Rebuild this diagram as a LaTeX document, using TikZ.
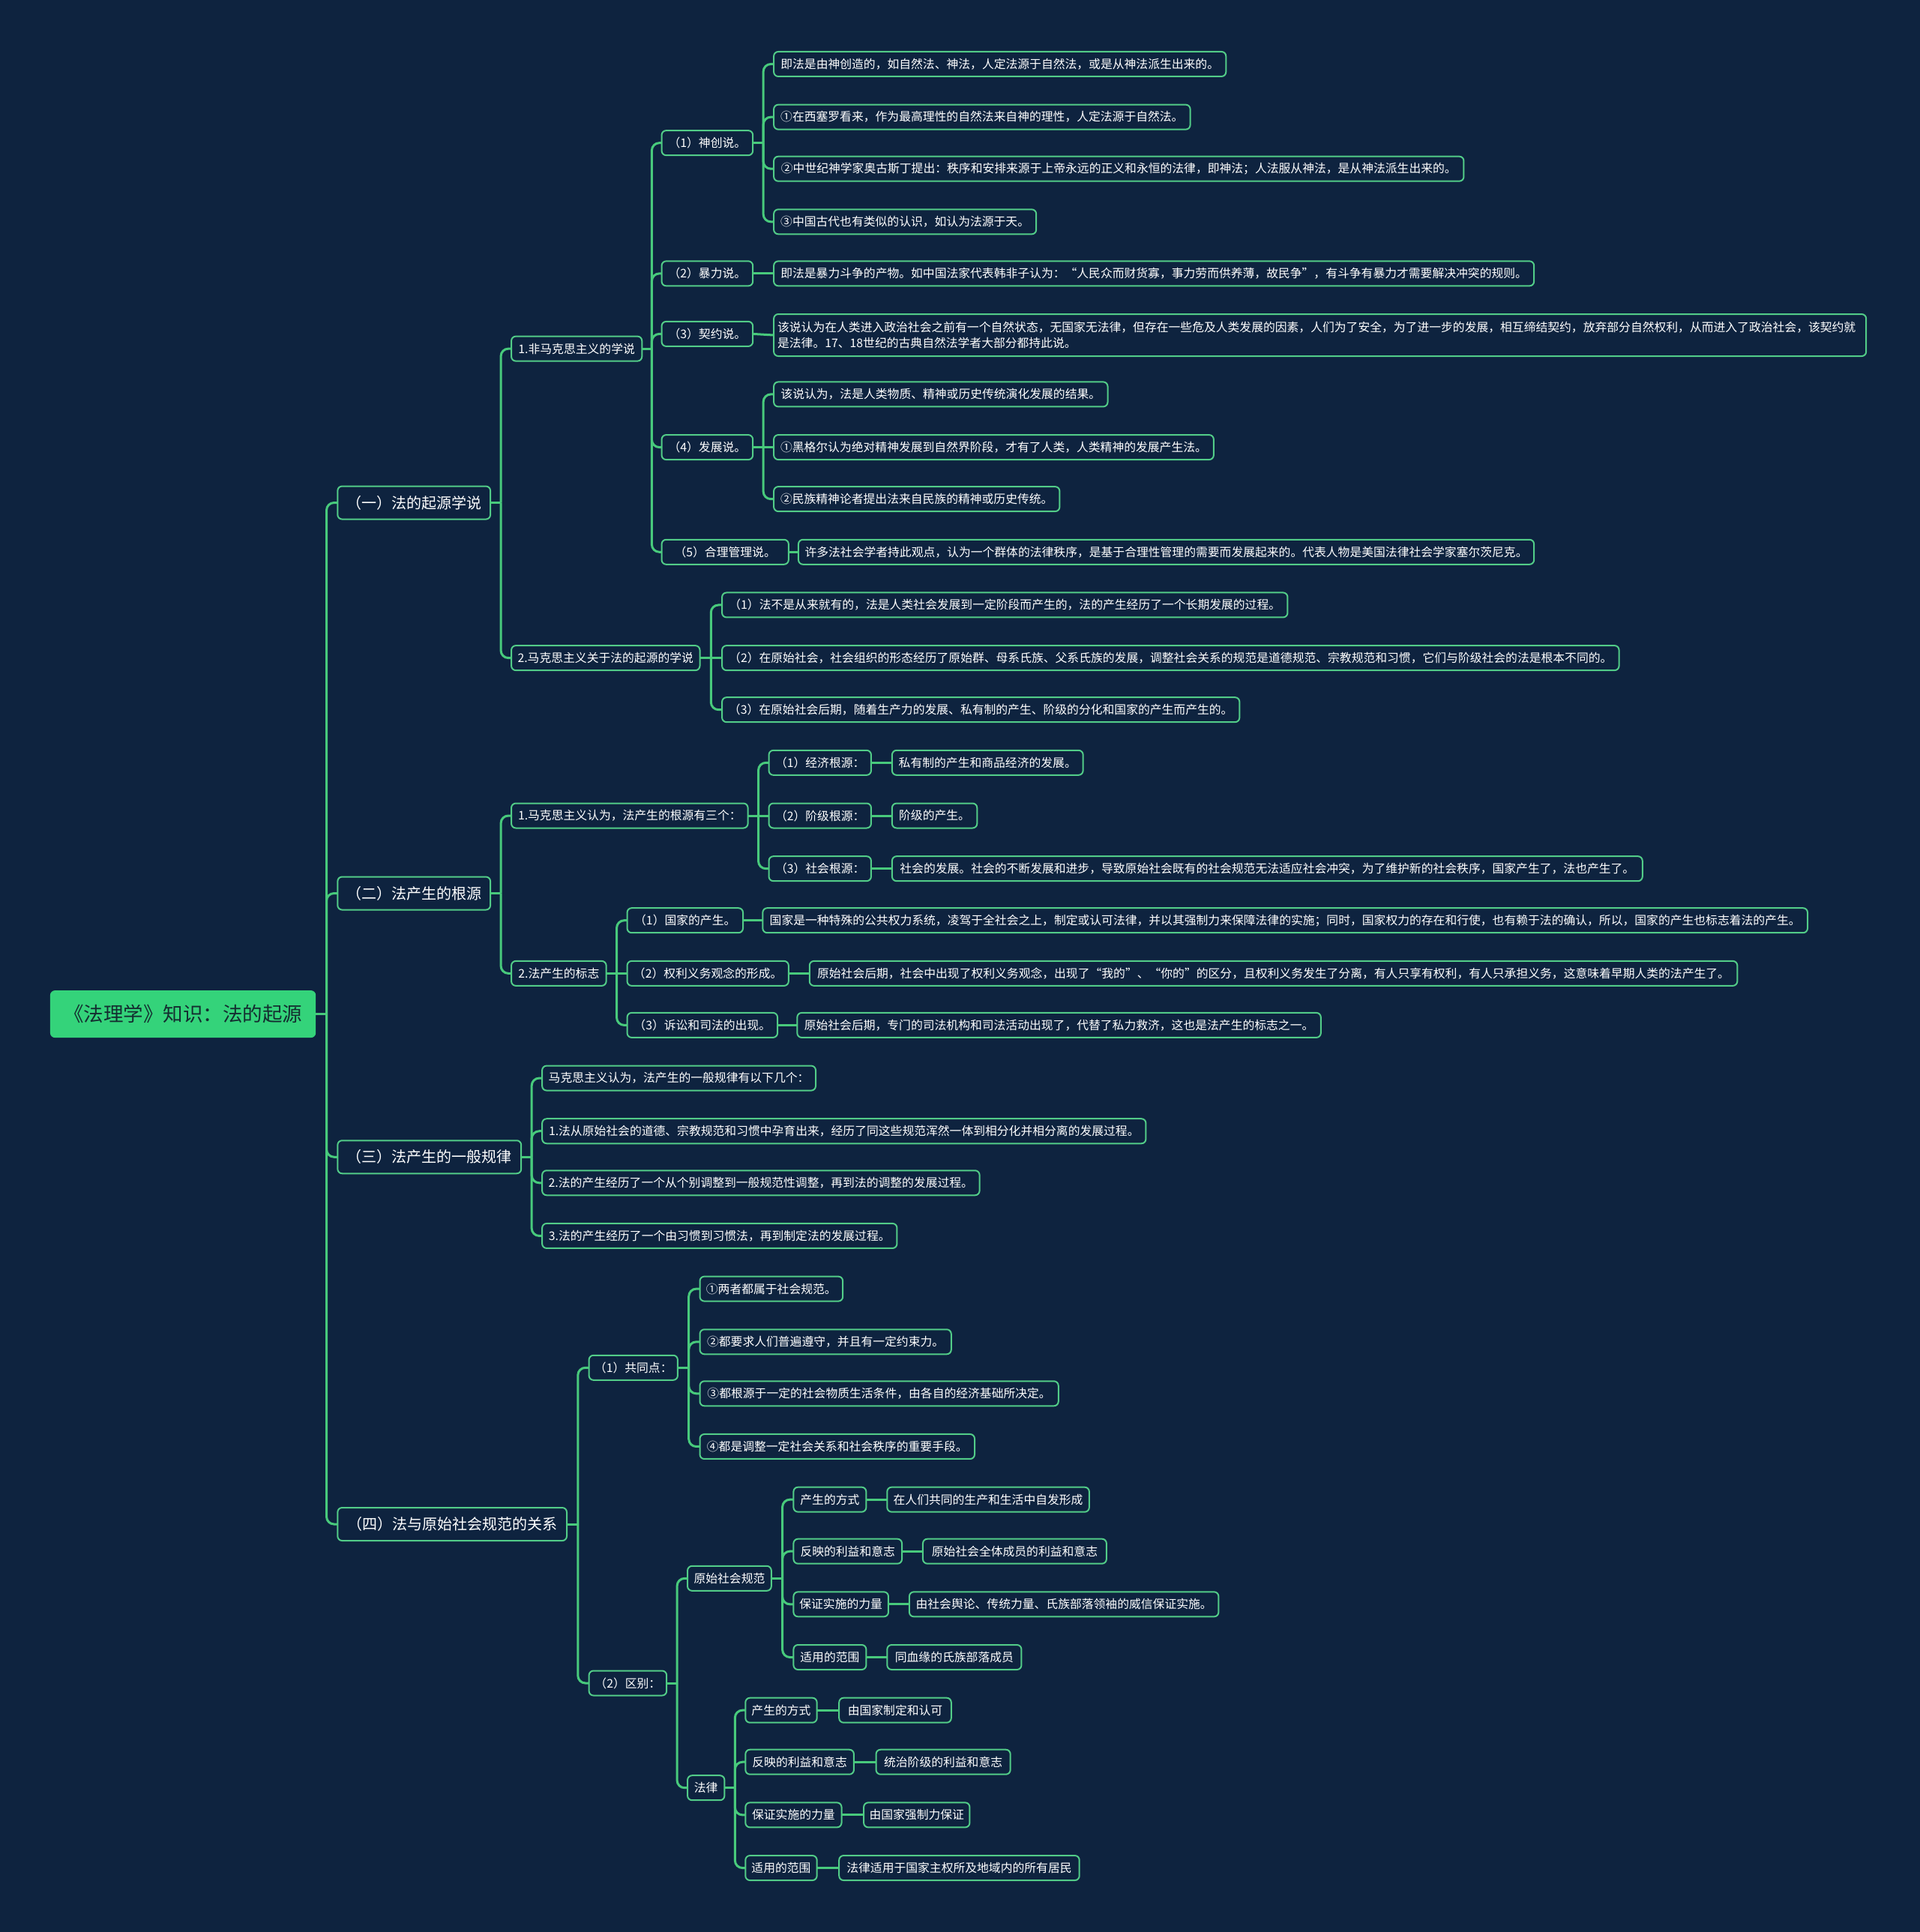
\documentclass[tikz,border=0pt]{standalone}
\usepackage{fontspec}
\newfontfamily\cjk{Noto Sans CJK SC}
\usetikzlibrary{calc}
\definecolor{bgc}{RGB}{14,35,63}
\definecolor{nodeg}{RGB}{82,204,136}
\definecolor{lineg}{RGB}{72,202,124}
\definecolor{rootg}{RGB}{52,211,122}
\definecolor{roottxt}{RGB}{20,45,48}
\tikzset{
  base/.style={draw=nodeg, line width=2pt, rounded corners=6pt, fill=bgc, text=white,
    inner xsep=3pt, inner ysep=0pt, outer sep=0pt},
  leaf/.style={base, font=\cjk\fontsize{15.8}{18}\selectfont, minimum height=33pt},
  lvlone/.style={base, font=\cjk\fontsize{20}{23}\selectfont, minimum height=44pt},
  rootbox/.style={fill=rootg, draw=rootg, line width=1pt, rounded corners=6pt, text=roottxt,
    font=\cjk\fontsize{26.5}{30}\selectfont, minimum height=62pt, inner sep=0pt, outer sep=0pt},
  conn/.style={draw=lineg, line width=3pt, rounded corners=10pt},
}
\newcommand\nd[6][leaf]{\node[#1, anchor=west, minimum width={(#4-#3)*1.6431pt}] (#2) at (#3,#5) {#6};}
\newcommand\br[2]{%
  \path let \p1=(#1.east), \p2=(#2.west) in coordinate (bx) at ({(\x1+\x2)/2},\y1);
  \draw[conn,rounded corners=0pt] (#1.east) -- (bx);
  \draw[conn] (bx) |- (#2.west);}
\newcommand\st[2]{\draw[conn] (#1.east) -- (#2.west);}
\begin{document}
\begin{tikzpicture}[x=1.6431pt,y=-1.6431pt]
\fill[bgc] (0,0) rectangle (1558,1568);
\useasboundingbox (0,0) rectangle (1558,1568);

% root and level one
\nd[rootbox]{root}{41}{256}{823}{《法理学》知识：法的起源}
\nd[lvlone]{A}{274}{398}{408}{（一）法的起源学说}
\nd[lvlone]{B}{274}{398}{725}{（二）法产生的根源}
\nd[lvlone]{C}{274}{423}{939}{（三）法产生的一般规律}
\nd[lvlone]{D}{274}{460}{1237}{（四）法与原始社会规范的关系}

% (一)
\nd{a1}{415}{521}{283}{1.非马克思主义的学说}
\nd{a2}{415}{568}{534}{2.马克思主义关于法的起源的学说}
\nd{a11}{537}{611}{116}{（1）神创说。}
\nd{a12}{537}{611}{222}{（2）暴力说。}
\nd{a13}{537}{611}{271}{（3）契约说。}
\nd{a14}{537}{611}{363}{（4）发展说。}
\nd{a15}{537}{640}{448}{（5）合理管理说。}
\nd{s1a}{628}{995}{52}{即法是由神创造的，如自然法、神法，人定法源于自然法，或是从神法派生出来的。}
\nd{s1b}{628}{966}{95}{①在西塞罗看来，作为最高理性的自然法来自神的理性，人定法源于自然法。}
\nd{s1c}{628}{1188}{137}{②中世纪神学家奥古斯丁提出：秩序和安排来源于上帝永远的正义和永恒的法律，即神法；人法服从神法，是从神法派生出来的。}
\nd{s1d}{628}{841}{180}{③中国古代也有类似的认识，如认为法源于天。}
\nd{s2}{628}{1245}{222}{即法是暴力斗争的产物。如中国法家代表韩非子认为：“人民众而财货寡，事力劳而供养薄，故民争”，有斗争有暴力才需要解决冲突的规则。}
\node[leaf, anchor=west, align=left, font=\cjk\fontsize{15.8}{21}\selectfont, minimum height=56pt,
  text width={(1517-628)*1.6431pt-14pt}, inner xsep=5pt] (s3) at (628,272)
  {该说认为在人类进入政治社会之前有一个自然状态，无国家无法律，但存在一些危及人类发展的因素，人们为了安全，为了进一步的发展，相互缔结契约，放弃部分自然权利，从而进入了政治社会，该契约就\\是法律。17、18世纪的古典自然法学者大部分都持此说。};
\nd{s4a}{628}{899}{320}{该说认为，法是人类物质、精神或历史传统演化发展的结果。}
\nd{s4b}{628}{985}{363}{①黑格尔认为绝对精神发展到自然界阶段，才有了人类，人类精神的发展产生法。}
\nd{s4c}{628}{860}{405}{②民族精神论者提出法来自民族的精神或历史传统。}
\nd{s5}{648}{1245}{448}{许多法社会学者持此观点，认为一个群体的法律秩序，是基于合理性管理的需要而发展起来的。代表人物是美国法律社会学家塞尔茨尼克。}
\nd{a21}{586}{1045}{491}{（1）法不是从来就有的，法是人类社会发展到一定阶段而产生的，法的产生经历了一个长期发展的过程。}
\nd{a22}{586}{1314}{534}{（2）在原始社会，社会组织的形态经历了原始群、母系氏族、父系氏族的发展，调整社会关系的规范是道德规范、宗教规范和习惯，它们与阶级社会的法是根本不同的。}
\nd{a23}{586}{1006}{576}{（3）在原始社会后期，随着生产力的发展、私有制的产生、阶级的分化和国家的产生而产生的。}

% (二)
\nd{b1}{415}{607}{662}{1.马克思主义认为，法产生的根源有三个：}
\nd{b2}{415}{492}{790}{2.法产生的标志}
\nd{b11}{624}{707}{619}{（1）经济根源：}
\nd{b12}{624}{707}{662}{（2）阶级根源：}
\nd{b13}{624}{707}{705}{（3）社会根源：}
\nd{b11v}{724}{879}{619}{私有制的产生和商品经济的发展。}
\nd{b12v}{724}{793}{662}{阶级的产生。}
\nd{b13v}{724}{1333}{705}{社会的发展。社会的不断发展和进步，导致原始社会既有的社会规范无法适应社会冲突，为了维护新的社会秩序，国家产生了，法也产生了。}
\nd{b21}{509}{603}{747}{（1）国家的产生。}
\nd{b22}{509}{640}{790}{（2）权利义务观念的形成。}
\nd{b23}{509}{631}{832}{（3）诉讼和司法的出现。}
\nd{b21v}{619}{1467}{747}{国家是一种特殊的公共权力系统，凌驾于全社会之上，制定或认可法律，并以其强制力来保障法律的实施；同时，国家权力的存在和行使，也有赖于法的确认，所以，国家的产生也标志着法的产生。}
\nd{b22v}{657}{1410}{790}{原始社会后期，社会中出现了权利义务观念，出现了“我的”、“你的”的区分，且权利义务发生了分离，有人只享有权利，有人只承担义务，这意味着早期人类的法产生了。}
\nd{b23v}{647}{1072}{832}{原始社会后期，专门的司法机构和司法活动出现了，代替了私力救济，这也是法产生的标志之一。}

% (三)
\nd{c1}{440}{662}{875}{马克思主义认为，法产生的一般规律有以下几个：}
\nd{c2}{440}{930}{918}{1.法从原始社会的道德、宗教规范和习惯中孕育出来，经历了同这些规范浑然一体到相分化并相分离的发展过程。}
\nd{c3}{440}{795}{960}{2.法的产生经历了一个从个别调整到一般规范性调整，再到法的调整的发展过程。}
\nd{c4}{440}{728}{1003}{3.法的产生经历了一个由习惯到习惯法，再到制定法的发展过程。}

% (四)
\nd{d1}{478}{550}{1110}{（1）共同点：}
\nd{d2}{478}{541}{1366}{（2）区别：}
\nd{d11}{568}{684}{1046}{①两者都属于社会规范。}
\nd{d12}{568}{772}{1089}{②都要求人们普遍遵守，并且有一定约束力。}
\nd{d13}{568}{859}{1131}{③都根源于一定的社会物质生活条件，由各自的经济基础所决定。}
\nd{d14}{568}{791}{1174}{④都是调整一定社会关系和社会秩序的重要手段。}
\nd{d2a}{558}{626}{1281}{原始社会规范}
\nd{d2b}{558}{588}{1451}{法律}
\nd{p1}{644}{703}{1217}{产生的方式}
\nd{p2}{644}{732}{1259}{反映的利益和意志}
\nd{p3}{644}{721}{1302}{保证实施的力量}
\nd{p4}{644}{703}{1345}{适用的范围}
\nd{p1v}{720}{884}{1217}{在人们共同的生产和生活中自发形成}
\nd{p2v}{749}{898}{1259}{原始社会全体成员的利益和意志}
\nd{p3v}{738}{989}{1302}{由社会舆论、传统力量、氏族部落领袖的威信保证实施。}
\nd{p4v}{720}{829}{1345}{同血缘的氏族部落成员}
\nd{q1}{605}{663}{1388}{产生的方式}
\nd{q2}{605}{693}{1430}{反映的利益和意志}
\nd{q3}{605}{683}{1473}{保证实施的力量}
\nd{q4}{605}{663}{1516}{适用的范围}
\nd{q1v}{681}{772}{1388}{由国家制定和认可}
\nd{q2v}{711}{820}{1430}{统治阶级的利益和意志}
\nd{q3v}{701}{787}{1473}{由国家强制力保证}
\nd{q4v}{681}{876}{1516}{法律适用于国家主权所及地域内的所有居民}

% connectors
\br{root}{A}\br{root}{B}\br{root}{C}\br{root}{D}
\br{A}{a1}\br{A}{a2}
\br{a1}{a11}\br{a1}{a12}\br{a1}{a13}\br{a1}{a14}\br{a1}{a15}
\br{a11}{s1a}\br{a11}{s1b}\br{a11}{s1c}\br{a11}{s1d}
\st{a12}{s2}\st{a13}{s3}
\br{a14}{s4a}\st{a14}{s4b}\br{a14}{s4c}
\st{a15}{s5}
\br{a2}{a21}\st{a2}{a22}\br{a2}{a23}
\br{B}{b1}\br{B}{b2}
\br{b1}{b11}\st{b1}{b12}\br{b1}{b13}
\st{b11}{b11v}\st{b12}{b12v}\st{b13}{b13v}
\br{b2}{b21}\st{b2}{b22}\br{b2}{b23}
\st{b21}{b21v}\st{b22}{b22v}\st{b23}{b23v}
\br{C}{c1}\br{C}{c2}\br{C}{c3}\br{C}{c4}
\br{D}{d1}\br{D}{d2}
\br{d1}{d11}\br{d1}{d12}\br{d1}{d13}\br{d1}{d14}
\br{d2}{d2a}\br{d2}{d2b}
\br{d2a}{p1}\br{d2a}{p2}\br{d2a}{p3}\br{d2a}{p4}
\st{p1}{p1v}\st{p2}{p2v}\st{p3}{p3v}\st{p4}{p4v}
\br{d2b}{q1}\br{d2b}{q2}\br{d2b}{q3}\br{d2b}{q4}
\st{q1}{q1v}\st{q2}{q2v}\st{q3}{q3v}\st{q4}{q4v}
\end{tikzpicture}
\end{document}
